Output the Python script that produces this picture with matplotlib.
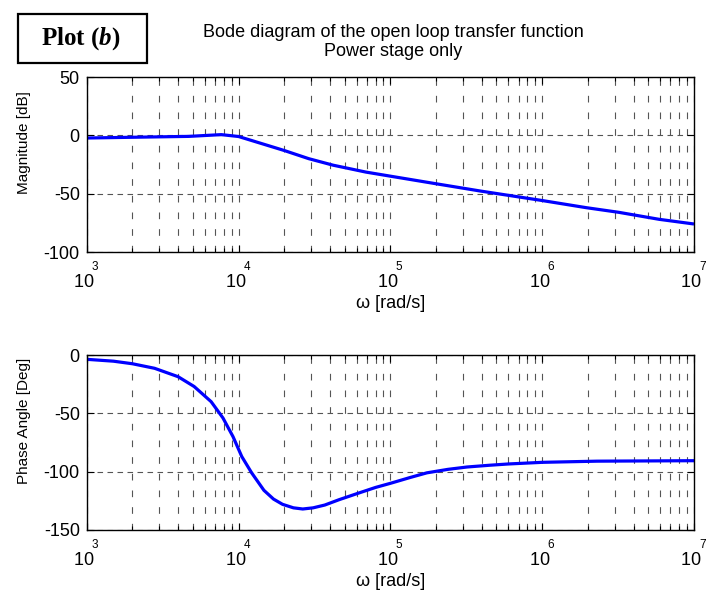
import numpy as np
import matplotlib
matplotlib.use("Agg")
import matplotlib.pyplot as plt
import matplotlib.transforms as mtransforms
from matplotlib.patches import Rectangle
from matplotlib.ticker import LogLocator, FixedLocator, FuncFormatter

plt.rcParams['font.family'] = ['Liberation Sans', 'DejaVu Sans']
plt.rcParams['mathtext.fontset'] = 'custom'
plt.rcParams['mathtext.rm'] = 'Liberation Serif:bold'
plt.rcParams['mathtext.it'] = 'Liberation Serif:bold:italic'
plt.rcParams['mathtext.bf'] = 'Liberation Serif:bold'
plt.rcParams['axes.unicode_minus'] = False

# ---- data ----
mag_w = [1e3, 1.9e3, 4.7e3, 7.7e3, 1.0e4, 2.0e4, 2.9e4, 4.2e4, 6.9e4, 1.0e5,
         2.0e5, 3.9e5, 9.8e5, 1.95e6, 3.2e6, 5.9e6, 1e7]
mag_db = [-2.3, -1.7, -0.9, 0.6, -1.0, -13.0, -20.0, -25.6, -31.5, -35.0,
          -41.5, -47.7, -55.7, -62.0, -66.0, -72.0, -76.0]

ph_w = [1e3, 1.5e3, 2.0e3, 2.8e3, 4.0e3, 5.1e3, 6.6e3, 7.9e3, 9.2e3, 1.05e4,
        1.22e4, 1.47e4, 1.7e4, 1.95e4, 2.3e4, 2.65e4, 3.1e4, 3.7e4, 4.6e4,
        6.1e4, 8.0e4, 1e5, 1.35e5, 1.74e5, 2.4e5, 3.2e5, 4.5e5, 6e5, 1e6,
        2.3e6, 1e7]
ph_deg = [-3.7, -5.3, -7.5, -11.4, -18.6, -27.0, -40.0, -54.0, -70.0, -87.0,
          -101.0, -116.0, -123.5, -128.0, -131.0, -132.0, -131.0, -128.6, -124.0,
          -118.6, -113.5, -110.0, -105.0, -101.0, -98.0, -96.0, -94.5, -93.4, -92.0,
          -91.0, -90.6]

xlim = (1e3, 1e7)
mag_yticks = [-100, -50, 0, 50]
ph_yticks = [-150, -100, -50, 0]
title_lines = ["Bode diagram of the open loop transfer function", "Power stage only"]
xlabel = "\u03c9 [rad/s]"
mag_ylabel = "Magnitude [dB]"
ph_ylabel = "Phase Angle [Deg]"

W, H = 722, 597
fig = plt.figure(figsize=(W / 100, H / 100), dpi=100)

def px_axes(l, t, r, b):
    return fig.add_axes([l / W, 1 - b / H, (r - l) / W, (b - t) / H])

AX_L, AX_R, AX_H = 86.7, 694, 175
ax1 = px_axes(AX_L, 77, AX_R, 77 + AX_H)
ax2 = px_axes(AX_L, 355, AX_R, 355 + AX_H)

def style(ax, yticks, ylab):
    ax.set_xscale('log')
    ax.set_xlim(*xlim)
    ax.set_ylim(yticks[0], yticks[-1])
    ax.yaxis.set_major_locator(FixedLocator(yticks))
    ax.xaxis.set_major_locator(LogLocator(base=10, numticks=20))
    ax.xaxis.set_minor_locator(LogLocator(base=10, subs=np.arange(2, 10), numticks=20))
    ax.xaxis.set_major_formatter(FuncFormatter(lambda v, p: "10 "))
    ax.xaxis.set_minor_formatter(FuncFormatter(lambda v, p: ""))
    ax.tick_params(which='both', direction='in', top=True, right=True,
                   labelsize=13, width=0.8, color='black')
    ax.tick_params(which='major', length=5)
    ax.tick_params(which='minor', length=3)
    ax.tick_params(axis='x', pad=16)
    ax.tick_params(axis='y', pad=5)
    ax.grid(True, axis='y', which='major', color='#555555', linewidth=0.8,
            linestyle=(0, (5, 4)))
    ax.grid(True, axis='x', which='both', color='#555555', linewidth=0.8,
            linestyle=(0, (6, 9)))
    for s in ax.spines.values():
        s.set_linewidth(1.0)
        s.set_color('black')
    ax.set_xlabel(xlabel, fontsize=13)
    ax.xaxis.set_label_coords(0.5, -(295 - 252) / AX_H)
    ax.set_ylabel(ylab, fontsize=11)
    ax.yaxis.set_label_coords((31 - AX_L) / (AX_R - AX_L), 0.625)
    # exponents of the decade labels
    blend = mtransforms.blended_transform_factory(ax.transData, ax.transAxes)
    for e in range(int(np.log10(xlim[0])), int(np.log10(xlim[1])) + 1):
        tr = blend + mtransforms.ScaledTranslation(5 / 100, -18 / 100, fig.dpi_scale_trans)
        ax.text(10.0 ** e, 0, str(e), transform=tr, ha='left', va='baseline',
                fontsize=8.5, clip_on=False)

style(ax1, mag_yticks, mag_ylabel)
style(ax2, ph_yticks, ph_ylabel)

ax1.plot(mag_w, mag_db, color='#0000FF', linewidth=2.3, solid_capstyle='butt')
ax2.plot(ph_w, ph_deg, color='#0000FF', linewidth=2.3, solid_capstyle='butt')

cx = 393 / W
fig.text(cx, 1 - 37 / H, title_lines[0], ha='center', va='baseline', fontsize=13)
fig.text(cx, 1 - 56 / H, title_lines[1], ha='center', va='baseline', fontsize=13)

# "Plot (b)" box
fig.patches.append(Rectangle((18 / W, 1 - 63 / H), (147 - 18) / W, (63 - 14) / H,
                             transform=fig.transFigure, fill=False,
                             edgecolor='black', linewidth=1.6))
fig.text(81 / W, 1 - 39 / H, r"$\mathbf{Plot\ (}\mathit{b}\mathbf{)}$", ha='center',
         va='center', fontsize=18)

fig.savefig("out.png", dpi=100)
